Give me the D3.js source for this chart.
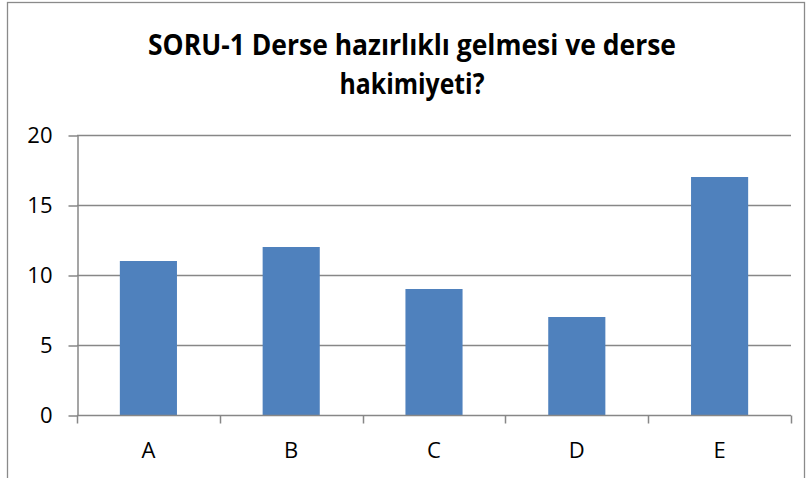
<!DOCTYPE html>
<html><head><meta charset="utf-8">
<script src="https://cdn.jsdelivr.net/npm/d3@7"></script>
<style>body{margin:0;background:#fff}svg{display:block}</style>
</head><body>
<script>
const categories = ["A","B","C","D","E"];
const values = [11,12,9,7,17];
const yTicks = [0,5,10,15,20];
const titleLines = ["SORU-1 Derse hazırlıklı gelmesi ve derse","hakimiyeti?"];

const W=810,H=478;
const svg=d3.select("body").append("svg").attr("width",W).attr("height",H);
svg.append("rect").attr("width",W).attr("height",H).attr("fill","#fff");
svg.append("rect").attr("x",7.5).attr("y",2.5).attr("width",797).attr("height",500)
  .attr("fill","none").attr("stroke","#8a8a8a").attr("stroke-width",1.3);

const m={left:77,right:791,top:135,bottom:415};
const x=d3.scaleBand().domain(categories).range([m.left,m.right]).paddingInner(0.6).paddingOuter(0.3);
const y=d3.scaleLinear().domain([0,20]).range([m.bottom,m.top]);
const grey="#878787";
const font="'Open Sans', 'Liberation Sans', Arial, sans-serif";

// gridlines
svg.append("g").selectAll("line").data(yTicks.filter(d=>d>0)).join("line")
  .attr("x1",m.left).attr("x2",m.right).attr("y1",d=>Math.round(y(d))+0.5).attr("y2",d=>Math.round(y(d))+0.5)
  .attr("stroke",grey).attr("stroke-width",1.5);

// bars
svg.append("g").selectAll("rect").data(values).join("rect")
  .attr("x",(d,i)=>x(categories[i])).attr("width",x.bandwidth())
  .attr("y",d=>y(d)).attr("height",d=>y(0)-y(d)).attr("fill","#4F81BD");

// y axis
const yAxis=d3.axisLeft(y).tickValues(yTicks).tickSize(9).tickSizeOuter(0).tickPadding(16);
const gy=svg.append("g").attr("transform",`translate(${m.left+0.5},0.5)`).call(yAxis);
gy.selectAll("path,line").attr("stroke",grey).attr("stroke-width",1.5);
gy.selectAll("text").attr("font-family",font).attr("font-size",22).attr("fill","#000");

// x axis with boundary ticks
const xb=d3.scaleLinear().domain([0,5]).range([m.left,m.right]);
const gx=svg.append("g").attr("transform",`translate(0,${Math.round(m.bottom)+0.5})`);
gx.append("line").attr("x1",m.left).attr("x2",m.right).attr("stroke",grey).attr("stroke-width",1.5);
gx.selectAll(".tk").data(d3.range(6)).join("line").attr("class","tk")
  .attr("x1",d=>Math.round(xb(d))+0.5).attr("x2",d=>Math.round(xb(d))+0.5).attr("y1",0).attr("y2",8)
  .attr("stroke",grey).attr("stroke-width",1.5);
gx.selectAll("text").data(categories).join("text")
  .attr("x",d=>x(d)+x.bandwidth()/2).attr("y",42).attr("text-anchor","middle")
  .attr("font-family",font).attr("font-size",22).attr("fill","#000").text(d=>d);

// title
const targetW=[528,145];
titleLines.forEach((t,i)=>{
  const el=svg.append("text").attr("x",412).attr("y",55+i*38.5).attr("text-anchor","middle")
    .attr("font-family",font).attr("font-weight","bold").attr("font-size",28).attr("fill","#000").text(t);
  const len=el.node().getComputedTextLength();
  if(Math.abs(len-targetW[i])>4) el.attr("textLength",targetW[i]).attr("lengthAdjust","spacingAndGlyphs");
});
</script>
</body></html>
